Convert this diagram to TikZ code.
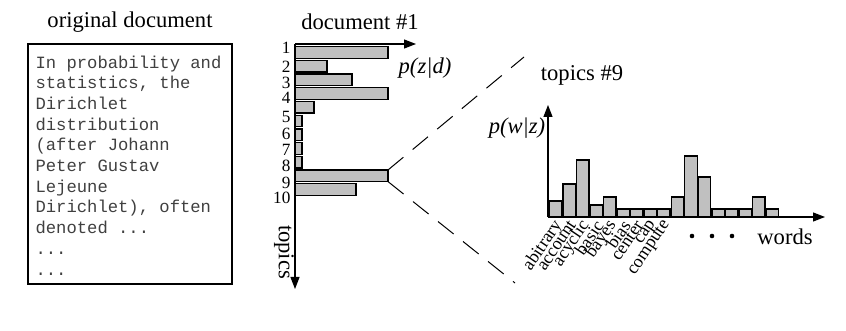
\documentclass[tikz,border=0pt]{standalone}
\usepackage{fontspec}
\setmainfont{Liberation Serif}
\setmonofont{Liberation Mono}
\usetikzlibrary{positioning,arrows.meta}
\definecolor{bar}{HTML}{C0C0C0}
\definecolor{txt}{HTML}{404040}

\begin{document}
\begin{tikzpicture}[x=0.5pt, y=-0.5pt, font=\fontsize{11.3}{13.5}\selectfont, line width=0.6pt,
  axis/.style={-{Triangle[length=6pt,width=4.5pt]}},
  barbox/.style={draw, fill=bar, line width=0.65pt},
  num/.style={font=\fontsize{8.6}{9}\selectfont, inner sep=0pt},
  word/.style={font=\fontsize{9}{10}\selectfont, inner sep=0pt, rotate=56, anchor=east}]
\useasboundingbox (0,0) rectangle (846,331);
% (a) the original document
\node (orig) at (130,22) {original document};
\draw (28,44) rectangle (232,284);
\node[anchor=north west, inner sep=0pt, align=left, text=txt, font=\ttfamily\fontsize{8.6}{10.35}\selectfont] (doctext) at (35,55)
  {In probability and\\statistics, the\\Dirichlet\\distribution\\(after Johann\\Peter Gustav\\Lejeune\\Dirichlet), often\\denoted ...\\...\\...};
% (b) the topic mixture of document #1
\node (doc1) at (360,22) {document \#1};
\coordinate (o1) at (295,44);
\coordinate (o1x) at (416,44);
\coordinate (o1y) at (295,289);
\foreach \len [count=\i from 0] in {93,32,57,93,19,7,7,7,7,93,61}
  \draw[barbox] (295,46.7+13.7*\i) rectangle ++(\len,11.6);
\draw[axis] (o1) -- (o1x);
\draw[axis] (o1) -- (o1y);
\foreach \n/\y in {1/48,2/67,3/83,4/98,5/117,6/134,7/150,8/166,9/183,10/198}
  \node[num, anchor=east] (t\n) at (291,\y) {\n};
\node (pzd) at (425,68) {\textit{p(z|d)}};
\node[rotate=-90] (topics) at (284,252) {topics};
% zoom into topic 9
\coordinate (selt) at (388,170);
\coordinate (selb) at (388,181.6);
\coordinate (zt) at (524,57);
\coordinate (zb) at (515,283);
\draw[line width=0.5pt, dash pattern=on 10pt off 6pt] (selt) -- (zt);
\draw[line width=0.5pt, dash pattern=on 10pt off 6pt] (selb) -- (zb);
% (c) the word distribution of topic #9
\node (top9) at (582,75) {topics \#9};
\coordinate (o2) at (548,217);
\coordinate (o2x) at (825,217);
\coordinate (o2y) at (548,105);
\foreach \h [count=\i from 0] in {16,33,57,12,20,8,8,8,8,20,61,40,8,8,8,20,8}
  \draw[barbox] (549.5+13.53*\i,217) rectangle ++(12.4,-\h);
\draw[axis] (o2) -- (o2x);
\draw[axis] (o2) -- (o2y);
\node (pwz) at (517,128) {\textit{p(w|z)}};
\foreach \w [count=\i from 0] in {abitrary,account,acyclic,basic,bayes,bias,center,cap,compute}
  \node[word] (w\i) at (559+13.53*\i,222) {\w};
\foreach \x in {692,712,732} \fill (\x,236) circle (2.3);
\node (words) at (785,237) {words};
\end{tikzpicture}
\end{document}
